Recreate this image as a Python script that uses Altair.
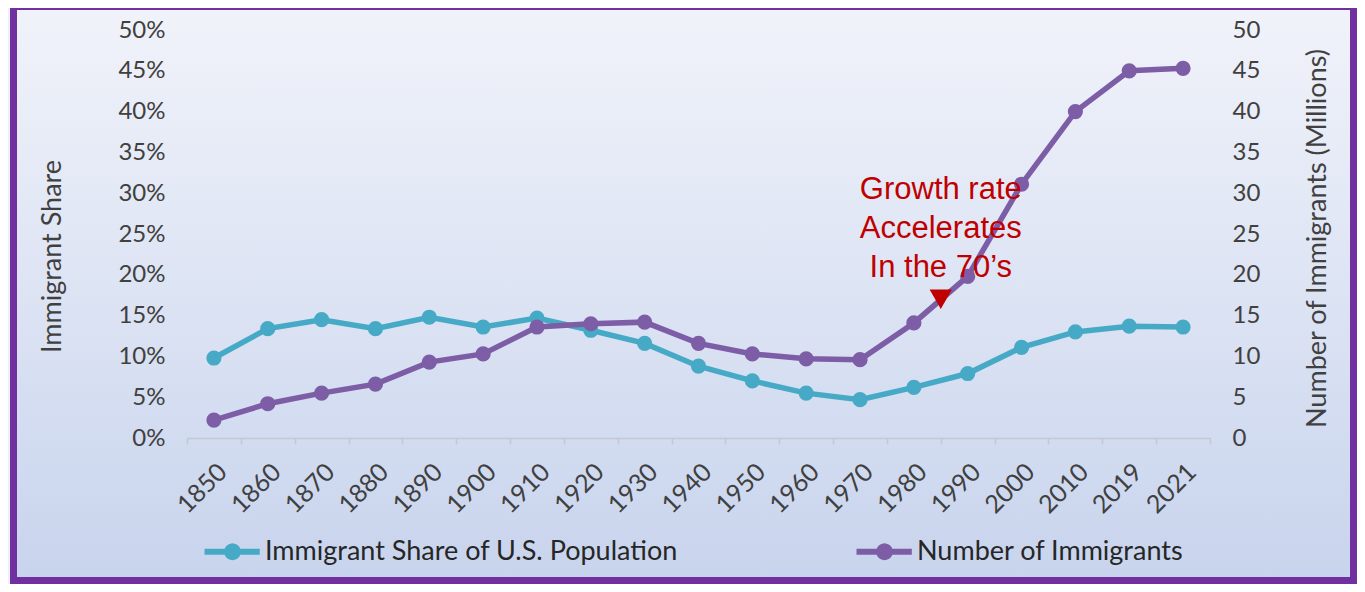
import math
import altair as alt
import pandas as pd

# ---------------- data ----------------
years = ["1850", "1860", "1870", "1880", "1890", "1900", "1910", "1920", "1930", "1940",
         "1950", "1960", "1970", "1980", "1990", "2000", "2010", "2019", "2021"]
share_pct = [9.8, 13.4, 14.5, 13.4, 14.8, 13.6, 14.7, 13.2, 11.6, 8.8,
             7.0, 5.5, 4.7, 6.2, 7.9, 11.1, 13.0, 13.7, 13.6]
immigrants_mil = [2.2, 4.2, 5.5, 6.6, 9.3, 10.3, 13.6, 14.0, 14.2, 11.6,
                  10.3, 9.7, 9.6, 14.1, 19.8, 31.1, 40.0, 45.0, 45.3]
series_names = ["Immigrant Share of U.S. Population", "Number of Immigrants"]
series_colors = ["#46AAC6", "#7D5DA6"]
y_ticks = [0, 5, 10, 15, 20, 25, 30, 35, 40, 45, 50]

ann_year = ["1980", "1980", "1980"]
ann_lines = ["Growth rate", "Accelerates", "In the 70\u2019s"]
ann_y = [29.3, 24.5, 19.75]
arrow_year = ["1980"]
arrow_y = [17.0]

share_df = pd.DataFrame({"year": years, "series": series_names[0], "value": share_pct})
count_df = pd.DataFrame({"year": years, "series": series_names[1], "value": immigrants_mil})
text_df = pd.DataFrame({"year": ann_year, "value": ann_y, "label": ann_lines})
arrow_df = pd.DataFrame({"year": arrow_year, "value": arrow_y})
bg_df = pd.DataFrame({"k": [0]})

FONT = "Lato"
LABEL_COLOR = "#404040"
GRAY = "#c3c8d1"

x_scale = alt.Scale(type="band", domain=years, paddingInner=0, paddingOuter=0)
x_axis = alt.Axis(title=None, labelAngle=-45, labelFont=FONT, labelFontSize=25,
                  labelColor=LABEL_COLOR, tickBand="extent", tickColor=GRAY,
                  tickSize=6, tickWidth=1.5, domainColor=GRAY, domainWidth=1.5,
                  labelPadding=15, grid=False, zindex=1)


def X(band=0.5):
    return alt.X("year:N", scale=x_scale, sort=years, bandPosition=band, axis=x_axis)


left_axis = alt.Axis(orient="left", values=y_ticks, labelExpr="datum.value + '%'",
                     ticks=False, domain=False, grid=False, labelFont=FONT,
                     labelFontSize=24, labelColor=LABEL_COLOR, labelPadding=22,
                     title="Immigrant Share", titleFont=FONT, titleFontSize=27,
                     titleFontWeight="normal", titleColor=LABEL_COLOR,
                     titleX=-135, titleY=226, titleAngle=270, titleAlign="center",
                     titleBaseline="middle", zindex=1)
right_axis = alt.Axis(orient="right", values=y_ticks, ticks=False, domain=False,
                      grid=False, labelFont=FONT, labelFontSize=24,
                      labelColor=LABEL_COLOR, labelPadding=22,
                      title="Number of Immigrants (Millions)", titleFont=FONT,
                      titleFontSize=27, titleFontWeight="normal",
                      titleColor=LABEL_COLOR, titleX=107, titleY=208, titleAngle=270,
                      titleAlign="center", titleBaseline="middle", zindex=1)

y_dom = alt.Scale(domain=[0, 50], nice=False, zero=True)
YL = alt.Y("value:Q", scale=y_dom, axis=left_axis)
YR = alt.Y("value:Q", scale=y_dom, axis=right_axis)
YA = alt.Y("value:Q", scale=y_dom, axis=None)

color_scale = alt.Scale(domain=series_names, range=series_colors)

# legend symbol: a short line with a dot in the middle (polygon, no arcs)
circ = " ".join(
    ("M" if i == 0 else "L")
    + f"{3.0 + 1.2 * math.cos(2 * math.pi * i / 24):.3f},{1.2 * math.sin(2 * math.pi * i / 24):.3f}"
    for i in range(24)
) + "Z"
legend_path = "M-1,-0.43L6.9,-0.43L6.9,0.43L-1,0.43Z " + circ

legend = alt.Legend(title=None, orient="none", legendX=11, legendY=508,
                    direction="horizontal",
                    symbolType=legend_path, symbolSize=196,
                    symbolStrokeWidth=0, symbolOpacity=1, labelFont=FONT,
                    labelFontSize=27, labelColor="#262626", labelOffset=40,
                    labelLimit=800, columnPadding=172, padding=0, zindex=1)

bg = alt.Chart(bg_df).mark_rect(
    fill=alt.LinearGradient(gradient="linear",
                            stops=[alt.GradientStop(color="#f1f3fa", offset=0),
                                   alt.GradientStop(color="#c8d4ed", offset=1)],
                            x1=0, x2=0, y1=0, y2=1),
    stroke="#7030A0", strokeWidth=7,
).encode(x=alt.value(-173.5), x2=alt.value(1166.5), y=alt.value(-23.5), y2=alt.value(550.5))

line_l = alt.Chart(share_df).mark_line(strokeWidth=5.5).encode(
    x=X(), y=YL, color=alt.Color("series:N", scale=color_scale, legend=legend))
pts_l = alt.Chart(share_df).mark_circle(size=230, opacity=1).encode(
    x=X(), y=YL, color=alt.Color("series:N", scale=color_scale, legend=legend))
line_r = alt.Chart(count_df).mark_line(strokeWidth=5.5).encode(
    x=X(), y=YR, color=alt.Color("series:N", scale=color_scale, legend=legend))
pts_r = alt.Chart(count_df).mark_circle(size=230, opacity=1).encode(
    x=X(), y=YR, color=alt.Color("series:N", scale=color_scale, legend=legend))

txt = alt.Chart(text_df).mark_text(font="Liberation Sans", fontSize=31, color="#C00000",
                                   align="center", baseline="alphabetic").encode(
    x=X(1.0), y=YA, text="label:N")
arrow = alt.Chart(arrow_df).mark_point(shape="triangle-down", filled=True, size=500,
                                       color="#C00000", opacity=1).encode(x=X(1.0), y=YA)

left_group = alt.layer(bg, line_l, pts_l)
right_group = alt.layer(line_r, pts_r)
ann_group = alt.layer(txt, arrow)

chart = alt.layer(left_group, right_group, ann_group).resolve_scale(
    y="independent"
).properties(
    width=1023, height=408,
    padding={"left": 179, "top": 22, "right": 147, "bottom": 146},
    autosize=alt.AutoSizeParams(type="none"),
    background="#eef1f8",
).configure_view(stroke=None)

chart.save("out.html", embed_options={"renderer": "svg", "actions": False})
